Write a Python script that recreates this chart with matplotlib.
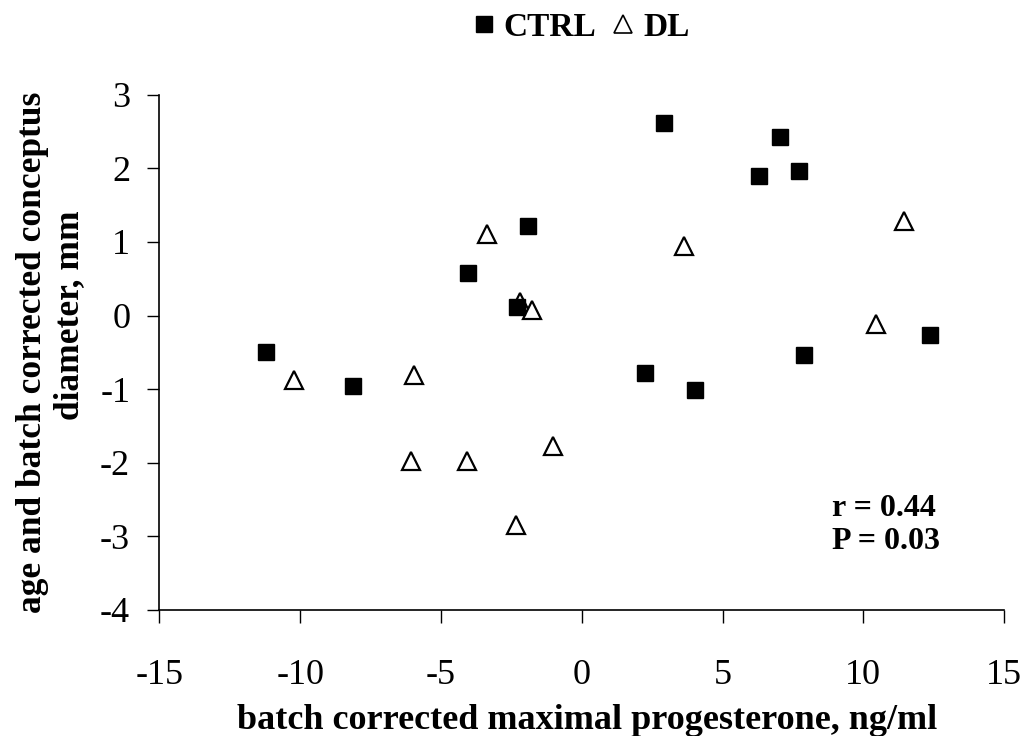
import matplotlib.pyplot as plt
from matplotlib.lines import Line2D

plt.rcParams['font.family'] = ['Liberation Serif', 'DejaVu Serif']
plt.rcParams['axes.unicode_minus'] = False

# CTRL group (filled squares)
ctrl_x = [-11.21, -8.12, -4.05, -1.92, -2.29, 2.92, 7.04, 6.31, 7.71, 12.37, 7.90, 2.26, 4.01]
ctrl_y = [-0.50, -0.96, 0.58, 1.22, 0.11, 2.61, 2.42, 1.89, 1.97, -0.26, -0.54, -0.78, -1.01]

# DL group (open triangles)
dl_x = [-10.22, -5.96, -3.35, -2.21, -1.78, 3.62, 11.45, 10.46, -6.07, -4.08, -1.01, -2.32]
dl_y = [-0.87, -0.81, 1.11, 0.18, 0.07, 0.94, 1.29, -0.12, -1.97, -1.97, -1.77, -2.85]

xticks = [-15, -10, -5, 0, 5, 10, 15]
yticks = [-4, -3, -2, -1, 0, 1, 2, 3]

W, H = 1024, 736
fig = plt.figure(figsize=(W / 100, H / 100), dpi=100)
ax = fig.add_axes([0.1556, 0.1712, 0.825, 0.7001])

# triangles first so squares sit on top where they overlap
ax.plot(dl_x, dl_y, linestyle='none', marker='^', ms=13, mfc='white',
        mec='black', mew=1.6, clip_on=False)
ax.plot(ctrl_x, ctrl_y, linestyle='none', marker='s', ms=12, mfc='black',
        mec='black', clip_on=False)

ax.set_xlim(-15, 15)
ax.set_ylim(-4, 3)
ax.set_xticks(xticks)
ax.set_yticks(yticks)
ax.tick_params(axis='both', direction='out', length=9, width=1, labelsize=26)
ax.tick_params(axis='x', pad=26)
ax.tick_params(axis='y', pad=12)
for side in ['top', 'right']:
    ax.spines[side].set_visible(False)
for side in ['left', 'bottom']:
    ax.spines[side].set_linewidth(1.2)

# axis titles placed in figure pixels
fig.text(587 / W, 1 - 729 / H, 'batch corrected maximal progesterone, ng/ml',
         fontsize=26, fontweight='bold', ha='center', va='baseline')
fig.text(33 / W, 1 - 352 / H, 'age and batch corrected conceptus', fontsize=25.5,
         fontweight='bold', rotation=90, ha='center', va='center')
fig.text(70 / W, 1 - 315 / H, 'diameter, mm', fontsize=25.5, fontweight='bold',
         rotation=90, ha='center', va='center')

ax.text(0.796, 0.226, 'r = 0.44\nP = 0.03', transform=ax.transAxes, fontsize=23,
        fontweight='bold', va='top', ha='left', linespacing=1.2)

handles = [
    Line2D([], [], linestyle='none', marker='s', ms=11, mfc='black', mec='black'),
    Line2D([], [], linestyle='none', marker='^', ms=13, mfc='white', mec='black', mew=1.2),
]
fig.legend(handles, ['CTRL', 'DL'], loc='center', bbox_to_anchor=(0.568, 0.963),
           ncol=2, frameon=False, prop={'size': 24, 'weight': 'bold'},
           handlelength=0.6, handletextpad=0.3, columnspacing=0.5)

fig.savefig('out.png', dpi=100)
